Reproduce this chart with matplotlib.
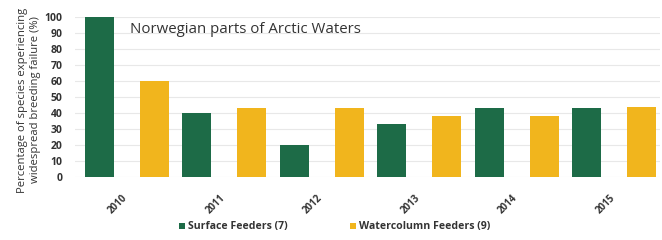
import matplotlib
matplotlib.use("Agg")
import matplotlib.pyplot as plt
import numpy as np

years = ["2010", "2011", "2012", "2013", "2014", "2015"]
surface = [100, 40, 20, 33, 43, 43]
watercolumn = [60, 43, 43, 38, 38, 44]
yticks = [0, 10, 20, 30, 40, 50, 60, 70, 80, 90, 100]

GREEN = "#1d6b47"
YELLOW = "#f1b51d"
TXT = "#333333"

plt.rcParams['font.family'] = ['Open Sans', 'DejaVu Sans']

fig = plt.figure(figsize=(6.62, 2.40), dpi=100)
ax = fig.add_axes([75/662, (240-177)/240, (660-75)/662, 160/240])

x = np.arange(len(years))
w = 0.30
off = 0.282
b1 = ax.bar(x - off, surface, width=w, color=GREEN, zorder=3, label="Surface Feeders (7)")
b2 = ax.bar(x + off, watercolumn, width=w, color=YELLOW, zorder=3, label="Watercolumn Feeders (9)")

ax.set_xlim(-0.53, 5.47)
ax.set_ylim(0, 100)
ax.set_yticks(yticks)
ax.set_yticklabels([str(t) for t in yticks], fontsize=7.5, fontweight='bold', color=TXT)
ax.set_xticks(x + 0.03)
ax.set_xticklabels(years, rotation=45, ha='right', va='top', fontsize=7, fontweight='bold', color=TXT)
ax.tick_params(axis='both', length=0)
ax.tick_params(axis='x', pad=11)
ax.tick_params(axis='y', pad=9)
ax.grid(axis='y', color='#e8e8e8', linewidth=0.8, zorder=0)
for s in ax.spines.values():
    s.set_visible(False)

ax.text(0.094, 0.92, "Norwegian parts of Arctic Waters", transform=ax.transAxes,
        fontsize=10.8, color=TXT, ha='left', va='center')

fig.text(29/662, (240-100)/240, "Percentage of species experiencing\nwidespread breeding failure (%)",
         rotation=90, ha='center', va='center', fontsize=8.1, color=TXT, linespacing=1.15)

leg = fig.legend(handles=[b1, b2], loc='center left', bbox_to_anchor=(179/662, (240-227)/240),
                 ncol=2, frameon=False, fontsize=7.6, handlelength=0.55, handleheight=0.55,
                 handletextpad=0.3, columnspacing=5.9, borderaxespad=0, borderpad=0)
for t in leg.get_texts():
    t.set_color(TXT)
    t.set_fontweight('bold')

fig.savefig("out.png", dpi=100, facecolor='white')
